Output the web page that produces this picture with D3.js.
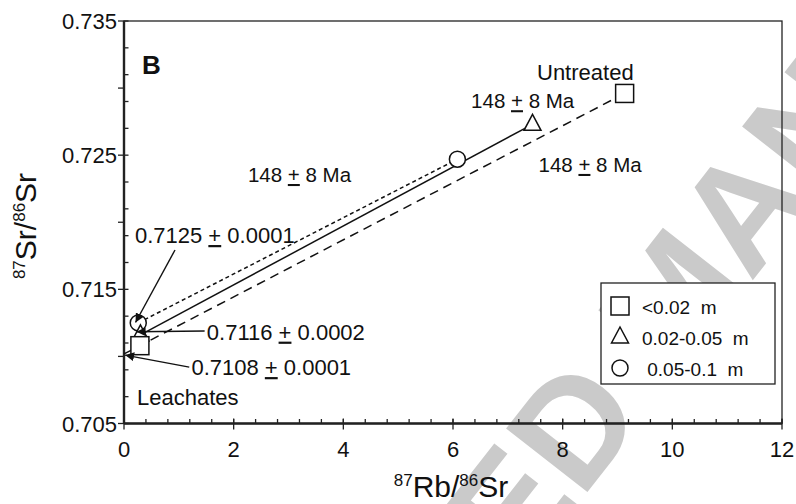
<!DOCTYPE html>
<html>
<head>
<meta charset="utf-8">
<script src="https://cdn.jsdelivr.net/npm/d3@7"></script>
<style>
  html, body { margin: 0; padding: 0; background: #fff; }
  svg { display: block; }
  text { font-family: "Liberation Sans", Arial, Helvetica, sans-serif; fill: #111; }
</style>
</head>
<body>
<svg id="chart" width="796" height="504"></svg>
<script>
// Sample groups (grain-size fractions): leachate and untreated points
const groups = ["<0.02  m", "0.02-0.05  m", " 0.05-0.1  m"];
const symbols = ["square", "triangle", "circle"];
const rbSr = [
  [0.29, 9.13],   // <0.02 m
  [0.30, 7.45],   // 0.02-0.05 m
  [0.26, 6.08]    // 0.05-0.1 m
];
const srSr = [
  [0.7108, 0.7296],
  [0.7116, 0.7273],
  [0.7125, 0.7247]
];
const lineDash = ["9,6", null, "4,3"];
const lineStartX = [0, 0.30, 0.26];   // isochron drawn from this Rb/Sr value

// Annotations
const leachLabels = ["0.7125", "0.7116", "0.7108"];
const leachErr = ["0.0001", "0.0002", "0.0001"];
const leachLabelPos = [[0.20, 0.71845], [1.51, 0.71125], [1.23, 0.70861]];
const leachArrowFrom = [[0.93, 0.71793], [1.47, 0.71189], [1.19, 0.70920]];
const leachArrowTo = [[0.21, 0.71253], [0.23, 0.71184], [0.02, 0.71010]];
const ageText = ["148", "8 Ma"];
const ageLabelPos = [[6.33, 0.72850], [7.56, 0.72375], [2.26, 0.72300]];

const xTicks = [0, 2, 4, 6, 8, 10, 12];
const yTicks = [0.705, 0.715, 0.725, 0.735];

const svg = d3.select("#chart");
const m = { left: 124, right: 782, top: 21, bottom: 423.5 };

const x = d3.scaleLinear().domain([0, 12]).range([m.left, m.right]);
const y = d3.scaleLinear().domain([0.705, 0.735]).range([m.bottom, m.top]);

// watermark, drawn beneath the plot
svg.append("text")
  .attr("transform", "translate(672,296) rotate(-52)")
  .attr("text-anchor", "middle")
  .attr("dy", "0.36em")
  .style("font-size", "150px")
  .style("font-weight", "bold")
  .style("fill", "#cacaca")
  .text("ACCEPTED MANUSCRIPT");

// frame
svg.append("rect")
  .attr("x", m.left).attr("y", m.top)
  .attr("width", m.right - m.left).attr("height", m.bottom - m.top)
  .attr("fill", "none").attr("stroke", "#222").attr("stroke-width", 1.3);

// x axis
const xMinor = d3.range(0, 12.001, 0.4).map(v => +v.toFixed(2));
const gx = svg.append("g").attr("transform", `translate(0,${m.bottom})`);
gx.selectAll("line.minor").data(xMinor).join("line")
  .attr("x1", d => x(d)).attr("x2", d => x(d))
  .attr("y1", 0).attr("y2", -4.5)
  .attr("stroke", "#222").attr("stroke-width", 1.3);
gx.selectAll("line.major").data(xTicks).join("line")
  .attr("x1", d => x(d)).attr("x2", d => x(d))
  .attr("y1", -5).attr("y2", 6)
  .attr("stroke", "#222").attr("stroke-width", 1.3);
gx.append("line").attr("x1", m.left).attr("x2", m.right)
  .attr("stroke", "#222").attr("stroke-width", 2.4);
gx.selectAll("text").data(xTicks).join("text")
  .attr("x", d => x(d)).attr("y", 33)
  .attr("text-anchor", "middle")
  .style("font-size", "22px")
  .text(d => d);

// y axis
const yMinor = d3.range(0.705, 0.7351, 0.002).map(v => +v.toFixed(3));
const yMid = [0.710, 0.720, 0.730];
const gy = svg.append("g").attr("transform", `translate(${m.left},0)`);
gy.selectAll("line.minor").data(yMinor).join("line")
  .attr("y1", d => y(d)).attr("y2", d => y(d))
  .attr("x1", 0).attr("x2", 4.5)
  .attr("stroke", "#222").attr("stroke-width", 1.3);
gy.selectAll("line.mid").data(yMid.concat(yTicks)).join("line")
  .attr("y1", d => y(d)).attr("y2", d => y(d))
  .attr("x1", -6).attr("x2", 0)
  .attr("stroke", "#222").attr("stroke-width", 1.3);
gy.append("line").attr("y1", m.top).attr("y2", m.bottom)
  .attr("stroke", "#222").attr("stroke-width", 2.4);
gy.selectAll("text").data(yTicks).join("text")
  .attr("x", -7).attr("y", d => y(d) + 8)
  .attr("text-anchor", "end")
  .style("font-size", "22px")
  .text(d => d.toFixed(3));

// axis titles
const xt = svg.append("text").attr("x", 451).attr("y", 497)
  .attr("text-anchor", "middle").style("font-size", "30px");
xt.append("tspan").style("font-size", "17px").attr("dy", "-11").text("87");
xt.append("tspan").attr("dy", "11").text("Rb/");
xt.append("tspan").style("font-size", "17px").attr("dy", "-11").text("86");
xt.append("tspan").attr("dy", "11").text("Sr");

const yt = svg.append("text").attr("transform", "translate(36,226) rotate(-90)")
  .attr("text-anchor", "middle").style("font-size", "30px");
yt.append("tspan").style("font-size", "17px").attr("dy", "-11").text("87");
yt.append("tspan").attr("dy", "11").text("Sr/");
yt.append("tspan").style("font-size", "17px").attr("dy", "-11").text("86");
yt.append("tspan").attr("dy", "11").text("Sr");

// panel letter and group title
svg.append("text").attr("x", 142).attr("y", 74)
  .style("font-size", "26px").style("font-weight", "bold").text("B");
svg.append("text").attr("x", 537).attr("y", 80)
  .style("font-size", "22px").text("Untreated");

// isochron lines
const line = d3.line().x(d => x(d[0])).y(d => y(d[1]));
rbSr.forEach((xs, i) => {
  const slope = (srSr[i][1] - srSr[i][0]) / (xs[1] - xs[0]);
  const x0 = lineStartX[i];
  const pts = [[x0, srSr[i][0] + slope * (x0 - xs[0])], [xs[1], srSr[i][1]]];
  svg.append("path").attr("d", line(pts))
    .attr("fill", "none").attr("stroke", "#111").attr("stroke-width", 1.5)
    .attr("stroke-dasharray", lineDash[i]);
});

// markers
function drawSymbol(g, type, cx, cy) {
  if (type === "square") {
    g.append("rect").attr("x", cx - 9).attr("y", cy - 9).attr("width", 18).attr("height", 18);
  } else if (type === "triangle") {
    g.append("path").attr("d", `M${cx},${cy - 10}L${cx + 8.5},${cy + 6}L${cx - 8.5},${cy + 6}Z`);
  } else {
    g.append("circle").attr("cx", cx).attr("cy", cy).attr("r", 8);
  }
}
const gm = svg.append("g").attr("fill", "#fff").attr("stroke", "#111").attr("stroke-width", 1.5);
// leachates first, untreated on top
[2, 1, 0].forEach(i => {
  rbSr[i].forEach((xv, j) => drawSymbol(gm, symbols[i], x(xv), y(srSr[i][j])));
});

// "+" underlined as a ± sign
function pmText(g, px, py, a, b, size) {
  const t = g.append("text").attr("x", px).attr("y", py).style("font-size", size + "px");
  t.append("tspan").text(a + " ");
  t.append("tspan").style("text-decoration", "underline").text("+");
  t.append("tspan").text(" " + b);
  return t;
}

// age labels
ageLabelPos.forEach(p => pmText(svg, x(p[0]), y(p[1]), ageText[0], ageText[1], 20.5));

// leachate intercepts with arrows
svg.append("defs").append("marker")
  .attr("id", "arrow").attr("viewBox", "0 0 10 10")
  .attr("refX", 10).attr("refY", 5)
  .attr("markerWidth", 9).attr("markerHeight", 9)
  .attr("markerUnits", "userSpaceOnUse")
  .attr("orient", "auto")
  .append("path").attr("d", "M0,0L10,5L0,10Z").attr("fill", "#111");

leachLabels.forEach((lab, i) => {
  pmText(svg, x(leachLabelPos[i][0]), y(leachLabelPos[i][1]), lab, leachErr[i], 22);
  svg.append("line")
    .attr("x1", x(leachArrowFrom[i][0])).attr("y1", y(leachArrowFrom[i][1]))
    .attr("x2", x(leachArrowTo[i][0])).attr("y2", y(leachArrowTo[i][1]))
    .attr("stroke", "#111").attr("stroke-width", 1.4)
    .attr("marker-end", "url(#arrow)");
});
svg.append("text").attr("x", 137).attr("y", 405).style("font-size", "22px").text("Leachates");

// legend
const lg = svg.append("g");
lg.append("rect").attr("x", 601).attr("y", 283).attr("width", 174).attr("height", 101)
  .attr("fill", "#fff").attr("stroke", "#222").attr("stroke-width", 1.3);
const lgm = lg.append("g").attr("fill", "#fff").attr("stroke", "#111").attr("stroke-width", 1.5);
groups.forEach((gname, i) => {
  const cy = 306 + i * 31;
  drawSymbol(lgm, symbols[i], 620, cy);
  lg.append("text").attr("x", 642).attr("y", cy + 8)
    .style("font-size", "19px").style("white-space", "pre").text(gname);
});
</script>
</body>
</html>
